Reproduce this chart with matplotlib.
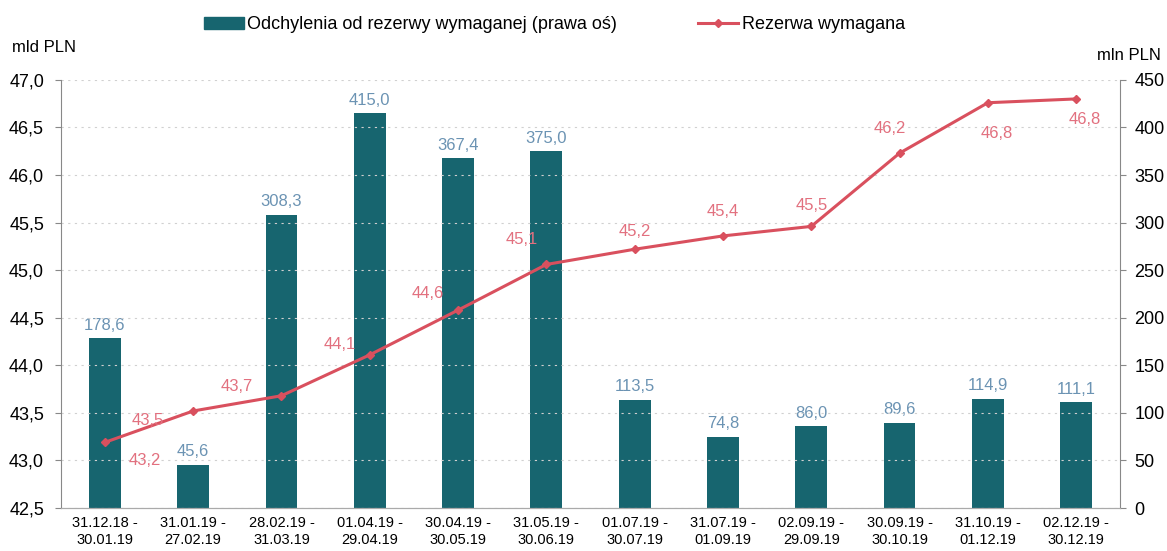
import matplotlib.pyplot as plt
import numpy as np
from matplotlib.ticker import FuncFormatter

plt.rcParams["font.family"] = ["Liberation Sans", "DejaVu Sans"]

periods = [
    "31.12.18 -\n30.01.19", "31.01.19 -\n27.02.19", "28.02.19 -\n31.03.19",
    "01.04.19 -\n29.04.19", "30.04.19 -\n30.05.19", "31.05.19 -\n30.06.19",
    "01.07.19 -\n30.07.19", "31.07.19 -\n01.09.19", "02.09.19 -\n29.09.19",
    "30.09.19 -\n30.10.19", "31.10.19 -\n01.12.19", "02.12.19 -\n30.12.19",
]
deviation = [178.6, 45.6, 308.3, 415.0, 367.4, 375.0, 113.5, 74.8, 86.0, 89.6, 114.9, 111.1]
required = [43.19, 43.52, 43.68, 44.11, 44.58, 45.06, 45.22, 45.36, 45.46, 46.23, 46.76, 46.80]

# label offsets for the line values (pixels)
line_offsets = [(40, -18), (-45, -10), (-45, 9), (-30, 10), (-30, 17), (-25, 25),
                (0, 18), (0, 24), (0, 21), (-10, 25), (9, -31), (9, -21)]

bar_color = "#17656f"
line_color = "#d9505e"
line_lbl = "#e2707f"
bar_lbl = "#6b93b3"

fmt = lambda v, p=None: f"{v:.1f}".replace(".", ",")

fig = plt.figure(figsize=(11.67, 5.51), dpi=100)
ax = fig.add_axes([0.052, 0.078, 0.908, 0.777])
ax2 = ax.twinx()

x = np.arange(len(periods))

ax2.bar(x, deviation, width=0.36, color=bar_color, zorder=2)
ax2.set_ylim(0, 450)
ax2.set_yticks(np.arange(0, 451, 50))
for xi, v in zip(x, deviation):
    ax2.annotate(fmt(v), (xi, v), xytext=(0, 4), textcoords="offset points",
                 ha="center", va="bottom", color=bar_lbl, fontsize=12)

ax.set_zorder(ax2.get_zorder() + 1)
ax.patch.set_visible(False)
ax.plot(x, required, color=line_color, lw=2.2, marker="D", ms=4, zorder=3)
ax.set_ylim(42.5, 47.0)
ax.set_yticks(np.arange(42.5, 47.01, 0.5))
ax.yaxis.set_major_formatter(FuncFormatter(fmt))
ax.set_xlim(-0.5, len(periods) - 0.5)
ax.set_xticks(x)
ax.set_xticklabels(periods, fontsize=10.5, linespacing=1.25)
for xi, v, (dx, dy) in zip(x, required, line_offsets):
    ax.annotate(fmt(v), (xi, v), xytext=(dx * 0.72, dy * 0.72), textcoords="offset points",
                ha="center", va="center", color=line_lbl, fontsize=12)

ax.grid(axis="y", color="#d0d0d0", linestyle=(0, (2, 4)), lw=0.8)
for a in (ax, ax2):
    a.spines["top"].set_visible(False)
    a.spines["left"].set_color("#888888")
    a.spines["right"].set_color("#888888")
    a.spines["bottom"].set_color("#aaaaaa")
ax.spines["right"].set_visible(False)
ax2.spines["left"].set_visible(False)
ax.tick_params(axis="y", labelsize=13, length=4, color="#888888", pad=8)
ax.tick_params(axis="x", length=0, pad=6)
ax2.tick_params(axis="y", labelsize=13, length=4, color="#888888", pad=6)

fig.text(0.01, 0.9, "mld PLN", fontsize=12, ha="left", va="bottom")
fig.text(0.995, 0.885, "mln PLN", fontsize=12, ha="right", va="bottom")

h1 = plt.Rectangle((0, 0), 1, 1, color=bar_color)
h2 = plt.Line2D([], [], color=line_color, lw=2.2, marker="D", ms=4)
fig.legend([h1, h2], ["Odchylenia od rezerwy wymaganej (prawa oś)", "Rezerwa wymagana"],
           loc="upper center", bbox_to_anchor=(0.475, 1.0), ncol=2, frameon=False,
           fontsize=13, handlelength=2.2, handletextpad=0.2, columnspacing=4.5)

fig.savefig("out.png", dpi=100)
